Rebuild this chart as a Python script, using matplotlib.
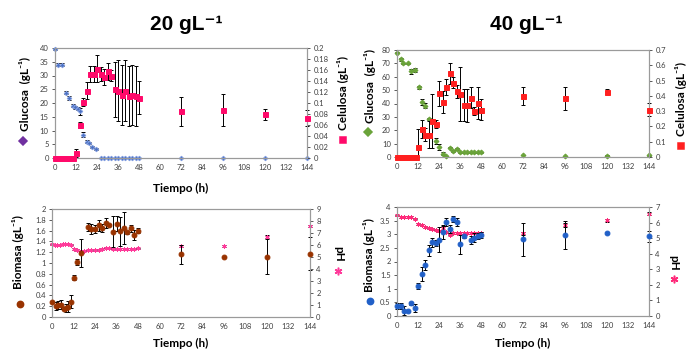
import matplotlib
matplotlib.use("Agg")
import matplotlib.pyplot as plt
from matplotlib.lines import Line2D
from matplotlib.ticker import FuncFormatter

# ---- data ----
xticks = [0, 12, 24, 36, 48, 60, 72, 84, 96, 108, 120, 132, 144]

# 20 g/L: glucose (left axis, g/L) and cellulose (right axis, g/L)
glu20_t = [0, 2, 4, 6, 8, 10, 11.5, 13, 14, 16, 18, 19.5, 21, 23.5,
           26, 28, 30, 32, 34, 36, 38, 40, 42, 44, 46, 48, 72, 96, 120, 144]
glu20 = [39.5, 34, 34, 23.8, 21.8, 19, 18.5, 18, 17, 8.5, 6, 5.5, 4, 3.2,
         0, 0, 0, 0, 0, 0, 0, 0, 0, 0, 0, 0, 0, 0, 0, 0]
glu20_err = [0.3, 0.5, 0.5, 0.5, 0.6, 0.5, 0.5, 0.6, 1.2, 1.0, 0.5, 0.5, 0.4, 0.3,
             0, 0, 0, 0, 0, 0, 0, 0, 0, 0, 0, 0, 0, 0, 0, 0]

cel20_t = [0, 1, 2, 3, 4, 5, 6, 7, 8, 9, 10, 12, 14, 16, 18, 20, 22, 24, 26, 28,
           30, 32, 34, 36, 38, 40, 42, 44, 46, 48, 72, 96, 120, 144]
cel20 = [0, 0, 0, 0, 0, 0, 0, 0, 0, 0, 0, 0.009, 0.06, 0.1025, 0.1225, 0.1525,
         0.1525, 0.1625, 0.1525, 0.1475, 0.1575, 0.15, 0.125, 0.1225, 0.115,
         0.1225, 0.1125, 0.115, 0.1125, 0.11, 0.085, 0.087, 0.08, 0.073]
cel20_err = [0, 0, 0, 0, 0, 0, 0, 0, 0, 0, 0, 0.0075, 0.005, 0.0075, 0.015, 0.015,
             0.015, 0.025, 0.0125, 0.015, 0.015, 0.01, 0.05, 0.055, 0.055,
             0.055, 0.055, 0.055, 0.055, 0.03, 0.026, 0.029, 0.01, 0.015]

# 40 g/L
glu40_t = [0, 2, 3.5, 6, 8, 10, 12.5, 14, 16, 18, 20, 22, 24, 26, 28, 30, 32, 34,
           36, 38, 40, 42, 44, 46, 48, 72, 96, 120, 144]
glu40 = [78, 73, 70, 70, 64, 65, 52, 41, 38.5, 28.5, 27, 12, 7.5, 2.5, 0.5, 7,
         4.5, 6, 3.5, 3.5, 3.5, 3.5, 3.5, 3.5, 3.5, 1.5, 0.5, 1, 1.2]
glu40_err = [0.5, 1, 0.5, 0.5, 2, 1.5, 1, 2, 2, 1, 1, 2, 2, 1, 0.5, 0.5,
             0.5, 0.5, 0.3, 0.3, 0.3, 0.3, 0.3, 0.3, 0.3, 0.3, 0.2, 0.2, 0.2]

cel40_t = [0, 1, 2, 3, 4, 5, 6, 7, 8, 9, 10, 11, 12, 14, 16, 18, 20, 22, 24, 26,
           28, 30, 32, 34, 36, 38, 40, 42, 44, 46, 48, 72, 96, 120, 144]
cel40 = [0, 0, 0, 0, 0, 0, 0, 0, 0, 0, 0, 0, 0.067, 0.184, 0.147, 0.147, 0.236,
         0.217, 0.417, 0.359, 0.455, 0.547, 0.487, 0.429, 0.411, 0.341, 0.337,
         0.389, 0.303, 0.354, 0.31, 0.396, 0.383, 0.428, 0.309]
cel40_err = [0, 0, 0, 0, 0, 0, 0, 0, 0, 0, 0, 0, 0.117, 0.061, 0.044, 0.0875,
             0.175, 0.026, 0.083, 0.07, 0.0525, 0.07, 0.035, 0.044, 0.175, 0.105,
             0.105, 0.07, 0.026, 0.105, 0.07, 0.059, 0.076, 0.017, 0.043]

# 20 g/L: biomass (left) and pH (right)
bio20_t = [0, 2, 3.5, 5, 6.5, 8, 9, 10.5, 12.5, 14, 16, 20, 22, 24, 26, 28, 30,
           32, 34, 36, 38, 40, 42, 44, 46, 48, 72, 96, 120, 144]
bio20 = [0.28, 0.2, 0.22, 0.23, 0.155, 0.17, 0.19, 0.28, 0.73, 1.02, 1.18, 1.67,
         1.63, 1.63, 1.70, 1.65, 1.74, 1.70, 1.58, 1.73, 1.59, 1.65, 1.57, 1.64,
         1.52, 1.60, 1.16, 1.12, 1.12, 1.175]
bio20_err = [0.02, 0.07, 0.08, 0.08, 0.03, 0.08, 0.1, 0.12, 0.05, 0.05, 0.26,
             0.07, 0.1, 0.08, 0.1, 0.08, 0.1, 0.02, 0.29, 0.14, 0.27, 0.3, 0.03,
             0.06, 0.1, 0.05, 0.18, 0.0, 0.33, 0.3]

ph20_t = [0, 1.5, 3, 4.5, 6, 7.5, 9, 10.5, 12, 14, 16, 18, 20, 22, 24, 26, 28, 30,
          32, 34, 36, 38, 40, 42, 44, 46, 48, 72, 96, 120, 144]
ph20 = [6.05, 6.04, 6.0, 6.02, 6.05, 6.06, 6.05, 6.04, 5.63, 5.57, 5.49, 5.54,
        5.57, 5.55, 5.58, 5.62, 5.66, 5.76, 5.72, 5.68, 5.66, 5.66, 5.66, 5.66,
        5.67, 5.7, 5.74, 5.92, 5.92, 6.7, 7.6]
ph20_err = [0.05, 0.05, 0.05, 0.05, 0.05, 0.05, 0.05, 0.05, 0.08, 0.08, 0.05,
            0.05, 0.05, 0.05, 0.05, 0.05, 0.05, 0.05, 0.05, 0.05, 0.05, 0.05,
            0.05, 0.05, 0.05, 0.05, 0.05, 0.12, 0.12, 0.12, 0.1]

# 40 g/L: biomass (left) and pH (right)
bio40_t = [0, 2, 4, 6, 8, 10, 12, 14, 16, 18, 20, 22, 24, 26, 28, 30, 32, 34, 36,
           38, 42, 44, 46, 48, 72, 96, 120, 144]
bio40 = [0.36, 0.36, 0.2, 0.17, 0.47, 0.28, 1.1, 1.55, 1.87, 2.42, 2.7, 2.68,
         2.8, 3.07, 3.46, 3.19, 3.56, 3.44, 2.64, 2.93, 2.8, 2.88, 2.94, 2.97,
         2.82, 2.98, 3.04, 2.92]
bio40_err = [0.1, 0.12, 0.15, 0.02, 0.05, 0.15, 0.1, 0.25, 0.2, 0.2, 0.15, 0.12,
             0.45, 0.25, 0.15, 0.15, 0.1, 0.15, 0.35, 0.05, 0.15, 0.15, 0.12,
             0.12, 0.6, 0.51, 0.03, 0.21]

ph40_t = [0, 2, 4, 6, 8, 10, 12, 14, 16, 18, 20, 22, 24, 26, 28, 30, 32, 34, 36,
          38, 40, 42, 44, 46, 48, 72, 96, 120, 144]
ph40 = [6.46, 6.37, 6.35, 6.35, 6.34, 6.25, 5.9, 5.83, 5.7, 5.65, 5.6, 5.55,
        5.46, 5.65, 5.37, 5.22, 5.32, 5.32, 5.32, 5.32, 5.32, 5.32, 5.32, 5.32,
        5.32, 5.32, 5.86, 6.14, 6.57]
ph40_err = [0.05, 0.05, 0.05, 0.05, 0.05, 0.05, 0.08, 0.05, 0.05, 0.05, 0.05,
            0.05, 0.05, 0.2, 0.05, 0.05, 0.05, 0.05, 0.05, 0.05, 0.05, 0.05,
            0.05, 0.05, 0.05, 0.1, 0.12, 0.1, 0.08]

# ---- styling ----
plt.rcParams['font.family'] = ['Lato', 'DejaVu Sans']
W, H = 690, 350
tick_col = '#404040'
spine_col = '#9a9a9a'


def fx(px):
    return px / W


def fy(py):
    return 1 - py / H


def rect(x0, y0, x1, y1):
    return [fx(x0), fy(y1), (x1 - x0) / W, (y1 - y0) / H]


def fmt(v, pos):
    return f"{v:g}"


def style(ax, ylim, yticks):
    ax.set_xlim(0, 144)
    ax.set_xticks(xticks)
    ax.set_ylim(*ylim)
    ax.set_yticks(yticks)
    ax.yaxis.set_major_formatter(FuncFormatter(fmt))
    ax.tick_params(axis='y', labelsize=5.5, colors=tick_col, length=2.5,
                   width=0.6, pad=2)
    ax.tick_params(axis='x', labelsize=5.5, colors=tick_col, length=0, pad=4)
    for s in ax.spines.values():
        s.set_color(spine_col)
        s.set_linewidth(0.8)


def series(ax, t, y, err, marker, color, ms, mec=None):
    # error bars never go below the axis floor
    lower = [min(e, v) for e, v in zip(err, y)]
    ax.errorbar(t, y, yerr=[lower, err], fmt='none', ecolor='black',
                elinewidth=0.7, capsize=1.2, capthick=0.7, zorder=2,
                clip_on=False)
    ax.plot(t, y, linestyle='none', marker=marker, color=color, ms=ms,
            mec=mec if mec else color, mew=0.7, zorder=3, clip_on=False)


fig = plt.figure(figsize=(6.9, 3.5), dpi=100)

star = (6, 2, 0)

# top-left: 20 g/L glucose / cellulose
ax1 = fig.add_axes(rect(55, 48, 307, 158))
style(ax1, (0, 40), range(0, 41, 5))
series(ax1, glu20_t, glu20, glu20_err, 'D', '#4a6fc0', 2.3, '#7f9ce0')
ax1b = ax1.twinx()
style(ax1b, (0, 0.2), [i * 0.02 for i in range(11)])
series(ax1b, cel20_t, cel20, cel20_err, 's', '#ff0a6a', 3.6)

# top-right: 40 g/L glucose / cellulose
ax2 = fig.add_axes(rect(397, 50, 649, 157))
style(ax2, (0, 80), range(0, 81, 10))
series(ax2, glu40_t, glu40, glu40_err, 'D', '#6aa33a', 2.5)
ax2b = ax2.twinx()
style(ax2b, (0, 0.7), [i * 0.1 for i in range(8)])
series(ax2b, cel40_t, cel40, cel40_err, 's', '#ff2020', 3.6)

# bottom-left: 20 g/L biomass / pH
ax3 = fig.add_axes(rect(52, 209, 310, 317))
style(ax3, (0, 2), [i * 0.2 for i in range(11)])
ax3b = ax3.twinx()
style(ax3b, (0, 9), range(0, 10))
series(ax3b, ph20_t, ph20, ph20_err, star, '#ff3a9a', 3.0)
series(ax3, bio20_t, bio20, bio20_err, 'o', '#993300', 3.5)
ax3.set_zorder(ax3b.get_zorder() + 1)
ax3.patch.set_visible(False)

# bottom-right: 40 g/L biomass / pH
ax4 = fig.add_axes(rect(397, 207, 649, 316))
style(ax4, (0, 4), [i * 0.5 for i in range(9)])
ax4b = ax4.twinx()
style(ax4b, (0, 7), range(0, 8))
series(ax4b, ph40_t, ph40, ph40_err, star, '#ff2a7a', 3.0)
series(ax4, bio40_t, bio40, bio40_err, 'o', '#2160c8', 3.5)
ax4.set_zorder(ax4b.get_zorder() + 1)
ax4.patch.set_visible(False)

# titles
title_font = dict(fontsize=15, fontweight='bold',
                  family=['Liberation Sans', 'DejaVu Sans'],
                  ha='center', va='center')
fig.text(fx(186), fy(25), '20 gL\u207b\u00b9', **title_font)
fig.text(fx(526), fy(25), '40 gL\u207b\u00b9', **title_font)

# axis labels
lab = dict(fontsize=8.5, fontweight='bold', ha='center', va='center',
           color='black', family=['Lato', 'DejaVu Sans'])
ylab = '(gL\u207b\u00b9)'
fig.text(fx(25), fy(94), 'Glucosa  ' + ylab, rotation=90, **lab)
fig.text(fx(343), fy(93), 'Celulosa ' + ylab, rotation=90, **lab)
fig.text(fx(370), fy(86), 'Glucosa  ' + ylab, rotation=90, **lab)
fig.text(fx(681), fy(99), 'Celulosa ' + ylab, rotation=90, **lab)
fig.text(fx(18), fy(252), 'Biomasa ' + ylab, rotation=90, **lab)
fig.text(fx(339), fy(254), 'pH', rotation=-90, **lab)
fig.text(fx(369), fy(255), 'Biomasa ' + ylab, rotation=90, **lab)
fig.text(fx(674), fy(263), 'pH', rotation=-90, **lab)

for cx, cy in [(181, 188), (181, 343), (523, 343)]:
    fig.text(fx(cx), fy(cy), 'Tiempo (h)', **lab)

# coloured markers in the axis labels
label_markers = [
    (23, 141, 'D', '#7030a0', 4.5),
    (343, 140, 's', '#ff0a6a', 4.5),
    (368, 132, 'D', '#6aa33a', 4.5),
    (681, 146, 's', '#ff2020', 4.5),
    (20, 304, 'o', '#993300', 4.5),
    (338, 271, star, '#ff3a9a', 5.5),
    (370, 301, 'o', '#2160c8', 4.5),
    (674, 279, star, '#ff2a7a', 5.5),
]
for px, py, m, c, s in label_markers:
    fig.add_artist(Line2D([fx(px)], [fy(py)], marker=m, color=c, ms=s,
                          mew=1.1, linestyle='none',
                          transform=fig.transFigure))

fig.savefig('out.png', dpi=100)
